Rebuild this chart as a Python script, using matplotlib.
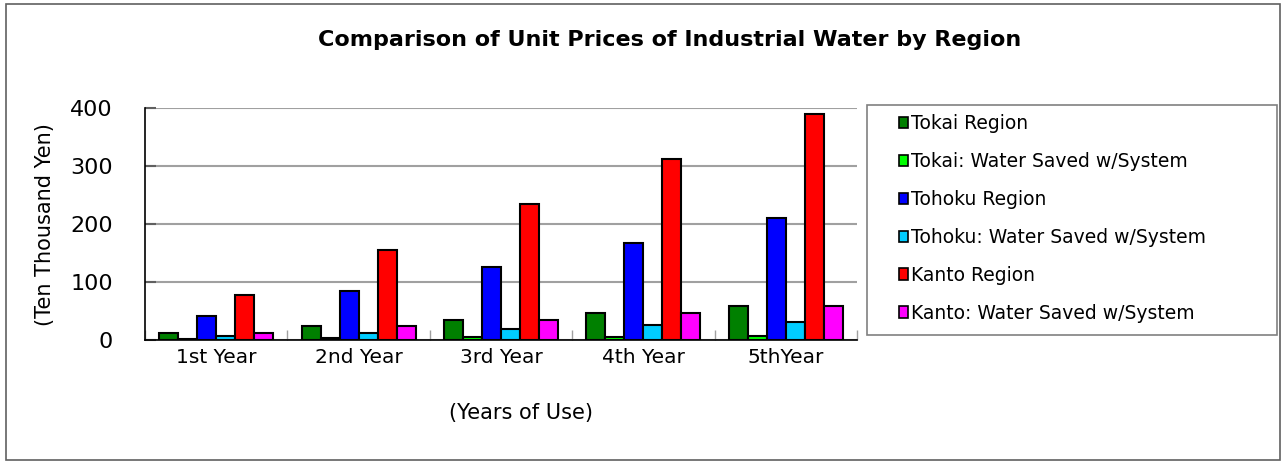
import matplotlib
matplotlib.use('Agg')
import matplotlib.pyplot as plt
import numpy as np
from matplotlib.patches import Patch, Rectangle

plt.rcParams['font.family'] = ['DejaVu Sans']

anos = ['1st Year', '2nd Year', '3rd Year', '4th Year', '5thYear']
series = ['Tokai Region', 'Tokai: Water Saved w/System', 'Tohoku Region',
          'Tohoku: Water Saved w/System', 'Kanto Region', 'Kanto: Water Saved w/System']
tokai = [11.7, 23.4, 35.1, 46.8, 58.5]
tokai_saved = [1.5, 3.0, 4.5, 6.0, 7.5]
tohoku = [42, 84, 126, 168, 210]
tohoku_saved = [6.3, 12.6, 18.9, 25.2, 31.5]
kanto = [78, 156, 234, 312, 390]
kanto_saved = [11.7, 23.4, 35.1, 46.8, 58.5]
cores = ['#008000', '#00ff00', '#0000ff', '#00ccff', '#ff0000', '#ff00ff']

valores = [tokai, tokai_saved, tohoku, tohoku_saved, kanto, kanto_saved]

fig = plt.figure(figsize=(12.82, 4.61), dpi=100)
ax = fig.add_axes([145/1282, 1-340/461, 712/1282, 232/461])

x = np.arange(len(anos))
largura = 0.8 / len(series)
for i, (nome, v) in enumerate(zip(series, valores)):
    pos = x - 0.4 + largura*(i + 0.5)
    ax.bar(pos, v, width=largura, color=cores[i], edgecolor='black', linewidth=1.5,
           label=nome, zorder=3)

ax.set_xlim(-0.5, len(anos) - 0.5)
ax.set_ylim(0, 400)
ax.set_yticks([0, 100, 200, 300, 400])
ax.yaxis.grid(True, color='#a0a0a0', linewidth=1.5, zorder=0)
ax.set_xticks(x)
ax.set_xticklabels(anos, fontsize=14.5)
ax.set_xticks(np.arange(len(anos) + 1) - 0.5, minor=True)
ax.tick_params(axis='x', which='major', length=0, pad=6)
ax.tick_params(axis='x', which='minor', direction='in', length=7, color='#a0a0a0', width=1)
ax.tick_params(axis='y', direction='in', length=8, color='#606060', width=1.5,
               labelsize=16, pad=23)
for s in ['top', 'right']:
    ax.spines[s].set_visible(False)
ax.spines['left'].set_linewidth(1.2)
ax.spines['bottom'].set_linewidth(1.2)

fig.text(670/1282, 1-40/461, 'Comparison of Unit Prices of Industrial Water by Region',
         ha='center', va='center', fontsize=16, fontweight='bold')
fig.text(45/1282, 1-225/461, '(Ten Thousand Yen)', rotation=90, ha='center', va='center',
         fontsize=15)
fig.text(521/1282, 1-413/461, '(Years of Use)', ha='center', va='center', fontsize=15)

# molduras
fig.patches.append(Rectangle((6/1282, 1-460/461), 1274/1282, 456/461, transform=fig.transFigure,
                             fill=False, edgecolor='#606060', linewidth=1.2))
fig.patches.append(Rectangle((867/1282, 1-335/461), 410/1282, 230/461, transform=fig.transFigure,
                             fill=False, edgecolor='#808080', linewidth=1.2))

handles = [Patch(facecolor=c, edgecolor='black', linewidth=1.2) for c in cores]
fig.legend(handles, series, loc='upper left', bbox_to_anchor=(899/1282, 1-114/461),
           frameon=False, fontsize=13.5, handlelength=0.48, handleheight=0.55,
           handletextpad=0.16, labelspacing=1.01, borderaxespad=0, borderpad=0)

fig.savefig('out.png', dpi=100)
